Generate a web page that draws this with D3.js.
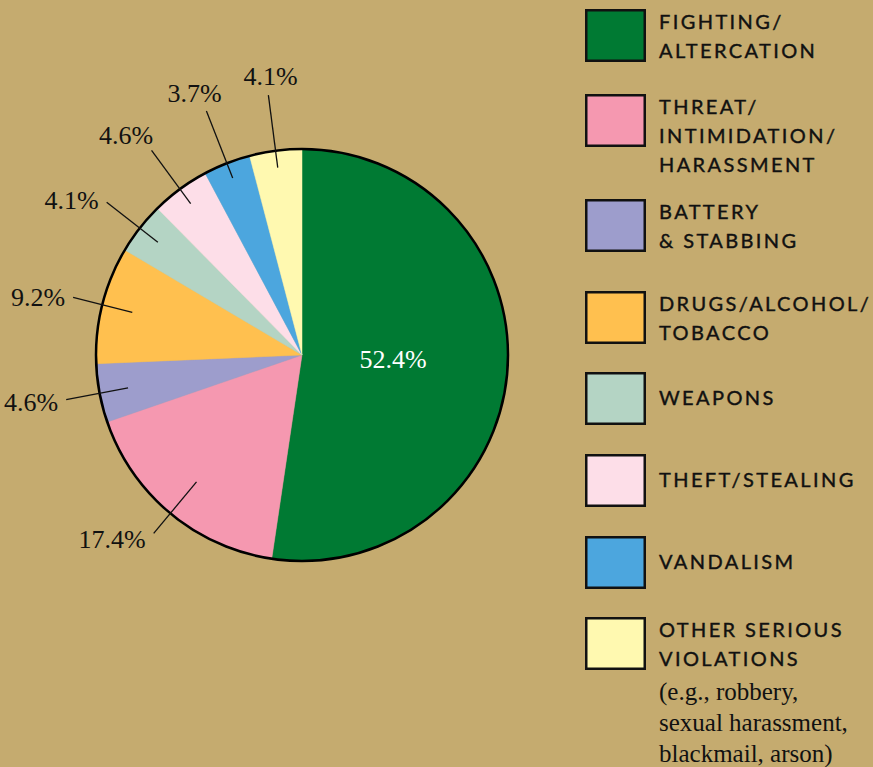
<!DOCTYPE html>
<html>
<head>
<meta charset="utf-8">
<script src="https://cdn.jsdelivr.net/npm/d3@7"></script>
<style>
  html, body { margin: 0; padding: 0; background: #C5AB6F; }
  svg { display: block; }
</style>
</head>
<body>
<svg id="chart" width="873" height="767"></svg>
<script>
// Incident categories, clockwise from 12 o'clock
const categories = [
  "Fighting/Altercation",
  "Threat/Intimidation/Harassment",
  "Battery & Stabbing",
  "Drugs/Alcohol/Tobacco",
  "Weapons",
  "Theft/Stealing",
  "Vandalism",
  "Other Serious Violations"
];
const shares = [52.4, 17.4, 4.6, 9.2, 4.1, 4.6, 3.7, 4.1];
const valueLabels = ["52.4%", "17.4%", "4.6%", "9.2%", "4.1%", "4.6%", "3.7%", "4.1%"];
const colors = ["#007A33", "#F598B0", "#9D9DCC", "#FFC04F", "#B4D4C4", "#FDDEE8", "#4CA6DE", "#FFF9B0"];

// Legend wording, broken into display lines
const legendLines = [
  ["FIGHTING/", "ALTERCATION"],
  ["THREAT/", "INTIMIDATION/", "HARASSMENT"],
  ["BATTERY", "& STABBING"],
  ["DRUGS/ALCOHOL/", "TOBACCO"],
  ["WEAPONS"],
  ["THEFT/STEALING"],
  ["VANDALISM"],
  ["OTHER SERIOUS", "VIOLATIONS"]
];
const legendNote = ["(e.g., robbery,", "sexual harassment,", "blackmail, arson)"];

// Layout
const cx = 302, cy = 355, radius = 206;
const leaderInner = [0, 165, 177, 175, 183, 188, 190, 189];
const leaderOuter = [0, 232, 240, 236, 248, 254, 262, 262];
const legendTop = [9, 94, 199, 291, 372, 454, 536, 617];

const svg = d3.select("#chart");
const g = svg.append("g").attr("transform", `translate(${cx},${cy})`);

const pie = d3.pie().sort(null).value(d => d);
const arcs = pie(shares);
const arc = d3.arc().innerRadius(0).outerRadius(radius);

g.selectAll("path.slice")
  .data(arcs)
  .join("path")
  .attr("class", "slice")
  .attr("d", arc)
  .attr("fill", (d, i) => colors[i])
  .attr("stroke", (d, i) => colors[i])
  .attr("stroke-width", 0.5);

g.append("circle")
  .attr("r", radius)
  .attr("fill", "none")
  .attr("stroke", "#000")
  .attr("stroke-width", 2.5);

const serif = "'Liberation Serif', 'DejaVu Serif', serif";
const unit = a => [Math.sin(a), -Math.cos(a)];

// Large slice: label inside
g.append("text")
  .attr("x", 91)
  .attr("y", 13)
  .attr("text-anchor", "middle")
  .attr("font-family", serif)
  .attr("font-size", 26)
  .attr("fill", "#fff")
  .text(valueLabels[0]);

// Small slices: leader lines and outside labels
arcs.forEach((d, i) => {
  if (i === 0) return;
  const mid = (d.startAngle + d.endAngle) / 2;
  const [ux, uy] = unit(mid);
  const x1 = ux * leaderInner[i], y1 = uy * leaderInner[i];
  const x2 = ux * leaderOuter[i], y2 = uy * leaderOuter[i];
  g.append("line")
    .attr("x1", x1).attr("y1", y1)
    .attr("x2", x2).attr("y2", y2)
    .attr("stroke", "#111")
    .attr("stroke-width", 1.3);
  const t = g.append("text")
    .attr("font-family", serif)
    .attr("font-size", 26)
    .attr("fill", "#111")
    .text(valueLabels[i]);
  if (ux < -0.62) {
    // side labels sit just beyond the end of the leader
    t.attr("x", x2 - 8).attr("y", y2 + 10 + uy * 6).attr("text-anchor", "end");
  } else {
    // upper labels sit above the leader
    t.attr("x", x2 + ux * 60 + 10).attr("y", y2 + uy * 20 + 10).attr("text-anchor", "middle");
  }
});

// Legend
const legend = svg.append("g");
categories.forEach((c, i) => {
  const top = legendTop[i];
  const item = legend.append("g");
  item.append("rect")
    .attr("x", 586.25).attr("y", top + 1.25)
    .attr("width", 58.5).attr("height", 50.5)
    .attr("fill", colors[i])
    .attr("stroke", "#111")
    .attr("stroke-width", 2.5);
  const lines = legendLines[i];
  const first = lines.length === 1 ? top + 33 : top + 20;
  lines.forEach((t, k) => {
    item.append("text")
      .attr("x", 659)
      .attr("y", first + k * 29)
      .attr("font-family", "Lato, 'Open Sans', sans-serif")
      .attr("font-size", 20)
      .attr("font-weight", 400)
      .attr("letter-spacing", 2.4)
      .attr("fill", "#111")
      .attr("stroke", "#111")
      .attr("stroke-width", 0.4)
      .text(t);
  });
  if (i === categories.length - 1) {
    legendNote.forEach((t, k) => {
      item.append("text")
        .attr("x", 659)
        .attr("y", top + 83 + k * 31)
        .attr("font-family", serif)
        .attr("font-size", 25)
        .attr("fill", "#111")
        .text(t);
    });
  }
});
</script>
</body>
</html>
